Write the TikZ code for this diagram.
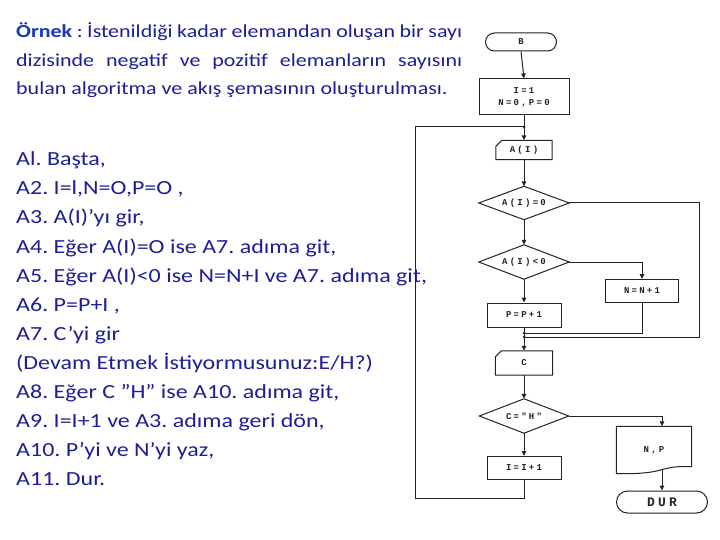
\documentclass[tikz,border=0pt]{standalone}
\usepackage{fontspec}
\setmainfont{Carlito}[FakeStretch=1.2]
\newfontfamily\fcfont{Liberation Mono}[LetterSpace=25]
\usetikzlibrary{arrows.meta}
\definecolor{txtblue}{RGB}{30,30,150}
\definecolor{ornblue}{RGB}{25,55,185}
\definecolor{fcline}{RGB}{35,35,35}
\begin{document}
\frenchspacing
\begin{tikzpicture}[x=1pt,y=-1pt,
  flow/.style={draw=fcline,line width=1pt},
  arr/.style={flow,-{Triangle[length=5pt,width=4.5pt]}},
  lbl/.style={font={\fcfont\bfseries\fontsize{9}{11}\selectfont}, text=fcline, inner sep=0pt, align=center},
  term/.style={lbl, draw=fcline, line width=1pt, rounded corners=9pt},
  proc/.style={lbl, draw=fcline, line width=1pt, rectangle},
  hidden/.style={lbl, rectangle},
  hdr/.style={anchor=base west, inner sep=0pt, text=txtblue, font={\fontsize{18.3}{22}\selectfont}},
  listtxt/.style={anchor=base west, inner sep=0pt, text=txtblue, font={\fontsize{20}{24}\selectfont}},
  jdot/.style={fill=fcline, circle, inner sep=0pt, minimum size=3pt},
]
\fill[white] (0,0) rectangle (720,540);
\useasboundingbox (0,0) rectangle (720,540);

% ---- header text ----
\node[hdr] (h1) at (16,38) {\hbox to 446pt{\textcolor{ornblue}{\bfseries Örnek} : İstenildiği kadar elemandan oluşan bir sayı}};
\node[hdr] (h2) at (16,66.5) {\hbox to 446pt{dizisinde negatif ve pozitif elemanların sayısını}};
\node[hdr] (h3) at (16,95) {bulan algoritma ve akış şemasının oluşturulması.};

% ---- algorithm list ----
\node[listtxt] (l1) at (16,166) {Al. Başta,};
\node[listtxt] (l2) at (16,195) {A2. I=l,N=O,P=O ,};
\node[listtxt] (l3) at (16,224) {A3. A(I)’yı gir,};
\node[listtxt] (l4) at (16,253) {A4. Eğer A(I)=O ise A7. adıma git,};
\node[listtxt] (l5) at (16,282) {A5. Eğer A(I)<0 ise N=N+I ve A7. adıma git,};
\node[listtxt] (l6) at (16,311) {A6. P=P+I ,};
\node[listtxt] (l7) at (16,340) {A7. C’yi gir};
\node[listtxt] (l8) at (16,369) {(Devam Etmek İstiyormusunuz:E/H?)};
\node[listtxt] (l9) at (16,398) {A8. Eğer C ”H” ise A10. adıma git,};
\node[listtxt] (l10) at (16,427) {A9. I=I+1 ve A3. adıma geri dön,};
\node[listtxt] (l11) at (16,456) {A10. P’yi ve N’yi yaz,};
\node[listtxt] (l12) at (16,485) {A11. Dur.};

% ---- flowchart nodes ----
\node[term, minimum width=71pt, minimum height=18pt] (b) at (521,42) {B};
\node[proc, minimum width=90pt, minimum height=36pt] (init) at (524,97) {I=1\\[1pt]N=0,P=0};
\node[hidden, minimum width=56pt, minimum height=19pt] (ai) at (524,150) {A(I)};
\draw[flow] (ai.south west) -- (ai.south east) -- (ai.north east) -- ([xshift=6pt]ai.north west) -- ([yshift=-6pt]ai.north west) -- cycle;
\node[hidden, minimum width=90pt, minimum height=33pt] (d1) at (524,203) {A(I)=0};
\draw[flow] (d1.north) -- (d1.east) -- (d1.south) -- (d1.west) -- cycle;
\node[hidden, minimum width=90pt, minimum height=34pt] (d2) at (524,262) {A(I)<0};
\draw[flow] (d2.north) -- (d2.east) -- (d2.south) -- (d2.west) -- cycle;
\node[proc, minimum width=73pt, minimum height=23pt] (nn) at (642,291) {N=N+1};
\node[proc, minimum width=74pt, minimum height=24pt] (pp) at (524,315) {P=P+1};
\node[hidden, minimum width=57pt, minimum height=24pt] (c) at (524,363) {C};
\draw[flow] (c.south west) -- (c.south east) -- (c.north east) -- ([xshift=6pt]c.north west) -- ([yshift=-6pt]c.north west) -- cycle;
\node[hidden, minimum width=89pt, minimum height=34pt] (d3) at (524,416) {C="H"};
\draw[flow] (d3.north) -- (d3.east) -- (d3.south) -- (d3.west) -- cycle;
\node[proc, minimum width=74pt, minimum height=23pt] (ii) at (524,468) {I=I+1};
\node[hidden, minimum width=75pt, minimum height=47pt] (np) at (654,450) {N,P};
\draw[flow] ([yshift=7pt]np.south east) -- (np.north east) -- (np.north west) -- (np.south west)
  .. controls +(18pt,0pt) and +(-14pt,-4pt) .. ([xshift=-30pt,yshift=4pt]np.south east)
  .. controls +(14pt,4pt) and +(-10pt,0pt) .. ([yshift=7pt]np.south east);
\node[term, minimum width=91pt, minimum height=22pt, rounded corners=11pt, font={\fcfont\bfseries\fontsize{13}{15}\selectfont}] (dur) at (662,502) {DUR};

% ---- helper coordinates ----
\coordinate (j1) at (524,127);
\coordinate (m1) at (524,333);
\coordinate (m2) at (524,337);
\coordinate (rc) at (699,337);
\coordinate (lb) at (415,498);

% ---- connectors ----
\draw[arr] (b.south) -- (init.north);
\draw[arr] (init.south) -- (ai.north);
\draw[arr] (ai.south) -- (d1.north);
\draw[arr] (d1.south) -- (d2.north);
\draw[arr] (d2.east) -| (nn.north);
\draw[arr] (d2.south) -- (pp.north);
\draw[flow] (d1.east) -| (rc) -- (m2);
\draw[flow] (nn.south) |- (m1);
\draw[arr] (pp.south) -- (c.north);
\draw[arr] (c.south) -- (d3.north);
\draw[arr] (d3.south) -- (ii.north);
\draw[arr] (d3.east) -| (np.north -| dur.north);
\draw[arr] ([yshift=5pt]np.south -| dur.north) -- (dur.north);
\draw[flow] (ii.south) |- (lb) -- (lb |- j1) -- (j1);
\node[jdot] (jd1) at (j1) {};
\node[jdot] (jd2) at (m1) {};
\node[jdot] (jd3) at (m2) {};
\end{tikzpicture}
\end{document}
